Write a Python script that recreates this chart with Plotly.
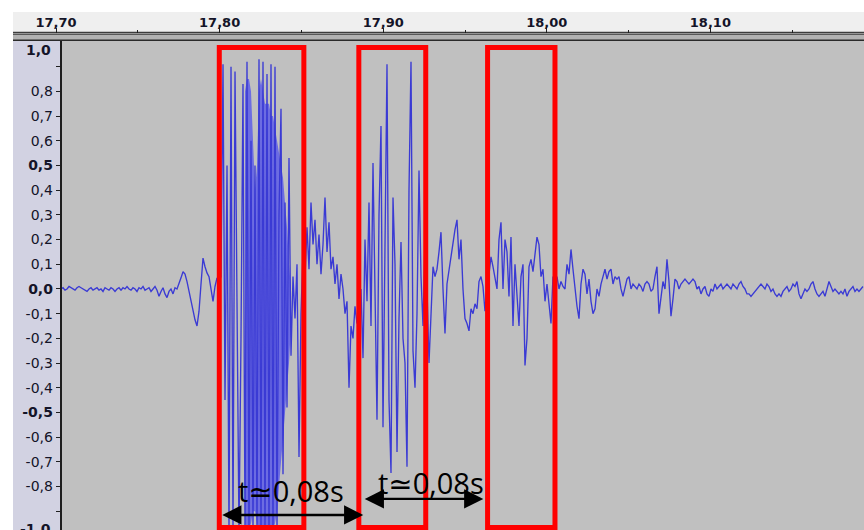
import numpy as np
import plotly.graph_objects as go

# ---- waveform samples (amplitude, one value per sample step) ----
lead_in = [
    0.0, 0.005, -0.005, 0.0, 0.01, 0.005, 0.0, -0.005, 0.005, 0.01,
    0.005, 0.0, -0.005, -0.01, 0.0, 0.005, -0.005, 0.0, 0.005, -0.005,
    0.0, -0.01, 0.005, 0.0, -0.005, 0.005, 0.0, -0.01, 0.0, 0.005,
    -0.005, 0.005, 0.0, 0.01, 0.0, -0.005, 0.005, 0.0, -0.01, 0.005,
    0.0, 0.01, -0.005, 0.0, 0.005, -0.01, 0.0, 0.01, -0.005, -0.03,
    -0.01, 0.005, -0.02, -0.035, -0.01, 0.0, -0.02, 0.005, 0.0, 0.02,
    0.045, 0.07, 0.06, 0.03, -0.01, -0.05, -0.09, -0.125, -0.15, -0.09,
    0.02, 0.125, 0.09, 0.065, 0.05, 0.0, -0.05, 0.01, 0.045, 0.03,
]
burst_one = [
    0.05, 0.91, -0.45, 0.5, -0.99, 0.9, -0.99, 0.88, -0.1, -0.99,
    -0.2, 0.83, -0.99, 0.92, -0.99, 0.6, -0.99, 0.5, -0.99, 0.93,
    -0.99, 0.92, -0.99, 0.87, -0.99, 0.91, -0.99, 0.9, -0.99, 0.3,
    0.73, -0.75, 0.35, -0.48, 0.53, -0.27, 0.05, -0.12, 0.1, -0.68,
    -0.1,
]
gap_one = [
    0.15, 0.05, 0.25, 0.08, 0.35, 0.18, 0.28, 0.1, 0.22, 0.06,
    0.18, 0.37, 0.15, 0.27, 0.08, 0.13, 0.02, 0.1, -0.04, 0.06,
    0.0, -0.1, -0.05, -0.4, -0.15, -0.2, -0.07, -0.14,
]
burst_two = [
    -0.1, 0.0, -0.28, 0.2, -0.05, 0.35, -0.15, 0.51, -0.1, -0.53,
    0.3, 0.66, -0.56, 0.2, 0.91, -0.45, -0.745, 0.37, 0.1, -0.66,
    -0.12, 0.19, -0.2, -0.3, -0.72, 0.4, 0.92, -0.25, -0.4, -0.1,
    0.48, 0.05, -0.15, 0.2, 0.0,
]
gap_two = [
    -0.3, -0.1, 0.09, 0.05, 0.08, 0.15, 0.23, 0.0, -0.18, 0.02,
    0.08, 0.12, 0.19, 0.24, 0.28, 0.12, 0.2, 0.0, -0.12, -0.14,
    -0.17, -0.08, -0.1, -0.06, -0.08, 0.03, 0.05, 0.01, -0.09,
]
burst_three = [
    0.02, 0.06, 0.13, 0.09, 0.04, 0.0, 0.2, 0.27, 0.0, 0.2,
    0.15, -0.03, 0.21, -0.15, 0.1, -0.05, -0.15, 0.05, 0.1, -0.31,
    -0.2, 0.09, 0.12, 0.07, 0.15, 0.21, 0.18, 0.05, 0.08, -0.05,
    0.02, -0.05, -0.14, 0.05, 0.02,
]
tail = [
    0.05, 0.0, 0.03, 0.01, 0.0, 0.1, 0.06, 0.16, 0.08, 0.0,
    -0.07, -0.12, 0.02, 0.08, 0.06, -0.02, 0.04, -0.05, -0.1, -0.08,
    0.0, -0.03, 0.02, 0.05, 0.08, 0.04, 0.07, 0.08, 0.02, 0.05,
    0.04, 0.05, 0.0, -0.03, 0.0, 0.04, 0.05, 0.0, 0.02, 0.01,
    0.0, 0.02, 0.01, -0.01, 0.02, 0.03, 0.02, -0.01, 0.0, 0.05,
    0.09, -0.1, -0.02, 0.03, 0.0, 0.12, 0.03, -0.11, -0.04, 0.04,
    0.03, 0.0, 0.02, 0.03, 0.04, 0.03, 0.02, 0.03, 0.04, 0.03,
    0.0, 0.01, -0.02, 0.0, 0.01, -0.02, -0.03, 0.0, -0.01, 0.02,
    0.0, 0.01, 0.02, 0.0, 0.01, 0.02, 0.01, 0.0, 0.02, 0.01,
    0.0, 0.02, 0.03, 0.01, 0.0, -0.02, -0.02, -0.03, -0.02, -0.01,
    0.0, 0.01, 0.02, 0.01, 0.0, 0.02, 0.01, -0.01, 0.0, -0.02,
    -0.03, -0.02, -0.03, -0.01, 0.0, 0.01, -0.01, 0.0, 0.02, 0.01,
    0.03, -0.02, -0.04, -0.02, 0.0, -0.01, 0.0, 0.02, 0.03, 0.0,
    -0.02, -0.03, -0.02, -0.01, -0.03, 0.0, 0.03, 0.01, -0.01, 0.0,
    -0.01, -0.02, -0.01, -0.02, 0.0, -0.03, -0.01, 0.0, 0.01, -0.01,
    0.0, -0.01, 0.0, 0.01,
]
amplitude = lead_in + burst_one + gap_one + burst_two + gap_two + burst_three + tail

# RMS envelope over the loudest stretch of the first burst
rms_first_index = 92
rms_upper = [0.8, 0.85, 0.85, 0.8, 0.6, 0.4, 0.5, 0.8, 0.85, 0.8, 0.75, 0.75,
             0.75, 0.7, 0.7, 0.65, 0.6, 0.55, 0.5, 0.45, 0.35, 0.25, 0.1, 0.0]
rms_lower = [-0.95, -0.97, -0.97, -0.95, -0.9, -0.9, -0.95, -0.97, -0.97, -0.97, -0.97, -0.97,
             -0.97, -0.97, -0.97, -0.95, -0.9, -0.8, -0.7, -0.6, -0.5, -0.4, -0.3, -0.15]

t_start = 17.70305       # s, first displayed sample
sample_step = 0.0012225  # s between displayed samples
time = t_start + sample_step * np.arange(len(amplitude))
rms_time = time[rms_first_index:rms_first_index + len(rms_upper)]

# ---- axes ----
time_range = [17.6737, 18.1939]
amp_range = [-0.976, 1.004]

ruler_ticks = [17.70, 17.80, 17.90, 18.00, 18.10]
ruler_labels = ["17,70", "17,80", "17,90", "18,00", "18,10"]
ruler_minor = [17.75, 17.85, 17.95, 18.05, 18.15]

amp_ticks = [0.9, 0.8, 0.7, 0.6, 0.5, 0.4, 0.3, 0.2, 0.1, 0.0,
             -0.1, -0.2, -0.3, -0.4, -0.5, -0.6, -0.7, -0.8, -0.9]
amp_labels = ["", "0,8", "0,7", "0,6", "<b>0,5</b>", "0,4", "0,3", "0,2", "0,1", "<b>0,0</b>",
              "-0,1", "-0,2", "-0,3", "-0,4", "<b>-0,5</b>", "-0,6", "-0,7", "-0,8", ""]

# ---- marked syllable windows and intervals between them ----
window_starts = [17.7998, 17.8851, 17.9638]
window_ends = [17.8515, 17.9260, 18.0050]
interval_starts = [17.8007, 17.8878]
interval_ends = [17.8878, 17.9612]
interval_labels = ["t≃0,08s", "t≃0,08s"]

W, H = 864, 530
AX_FONT = "DejaVu Sans, Verdana, sans-serif"
INK = "#141428"


def px_x(p):
    return p / W


def px_y(p):
    return 1 - p / H


fig = go.Figure()
fig.add_trace(go.Scatter(
    x=np.concatenate([rms_time, rms_time[::-1]]),
    y=rms_upper + rms_lower[::-1],
    fill="toself", fillcolor="rgb(108,108,226)", mode="none",
    hoverinfo="skip", showlegend=False,
))
fig.add_trace(go.Scatter(
    x=time, y=amplitude, mode="lines",
    line=dict(color="rgb(58,58,212)", width=1.35),
    hoverinfo="skip", showlegend=False,
))

shapes = []
# ruler strip
shapes.append(dict(type="rect", xref="paper", yref="paper", layer="below",
                   x0=px_x(13), x1=1, y0=px_y(32), y1=px_y(12),
                   fillcolor="#efefef", line=dict(width=0)))
shapes.append(dict(type="rect", xref="paper", yref="paper", layer="below",
                   x0=px_x(13), x1=1, y0=px_y(41), y1=px_y(32),
                   fillcolor="#b2b2b2", line=dict(width=0)))
for yy, col, w in [(32.5, "#3c3c3c", 1.3), (34.5, "#585858", 1.2), (40.2, "#2a2a2a", 1.6)]:
    shapes.append(dict(type="line", xref="paper", yref="paper", layer="below",
                       x0=px_x(13), x1=1, y0=px_y(yy), y1=px_y(yy),
                       line=dict(color=col, width=w)))
# vertical ruler panel
shapes.append(dict(type="rect", xref="paper", yref="paper", layer="below",
                   x0=px_x(13), x1=px_x(60.5), y0=0, y1=px_y(41),
                   fillcolor="#d2d2e2", line=dict(width=0)))
# marked windows
for a, b in zip(window_starts, window_ends):
    shapes.append(dict(type="rect", xref="x", yref="y", layer="above",
                       x0=a, x1=b, y0=-0.966, y1=0.978,
                       line=dict(color="#ff0000", width=5), fillcolor="rgba(0,0,0,0)"))

annotations = [
    dict(xref="paper", yref="paper", x=px_x(53), y=px_y(50), xanchor="right", yanchor="middle",
         text="<b>1,0</b>", showarrow=False, font=dict(family=AX_FONT, size=14, color=INK)),
    dict(xref="paper", yref="paper", x=px_x(53), y=px_y(519), xanchor="right", yanchor="top",
         text="<b>-1,0</b>", showarrow=False, font=dict(family=AX_FONT, size=14, color=INK)),
]
arrow_levels = [-0.915, -0.850]
text_levels = [-0.818, -0.785]
text_centers = [17.8436, 17.9292]
for a, b, lvl, lab, tl, tc in zip(interval_starts, interval_ends, arrow_levels,
                                   interval_labels, text_levels, text_centers):
    annotations.append(dict(
        xref="x", yref="y", axref="x", ayref="y", x=b, y=lvl, ax=a, ay=lvl,
        text="", showarrow=True, arrowhead=2, arrowside="end+start",
        arrowsize=1.6, arrowwidth=2.4, arrowcolor="black", standoff=0, startstandoff=0,
    ))
    annotations.append(dict(
        xref="x", yref="y", x=tc, y=tl, text=lab, showarrow=False,
        xanchor="center", yanchor="middle",
        font=dict(family="Open Sans, DejaVu Sans, sans-serif", size=29, color="black"),
    ))

fig.update_layout(
    width=W, height=H,
    margin=dict(l=0, r=0, t=0, b=0),
    paper_bgcolor="white", plot_bgcolor="#c0c0c0",
    separators=",.",
    showlegend=False,
    shapes=shapes, annotations=annotations,
    xaxis=dict(
        domain=[px_x(13), 1], range=time_range,
        anchor="free", position=px_y(32.5), side="top",
        tickmode="array", tickvals=ruler_ticks,
        ticktext=["<b>%s</b>" % s for s in ruler_labels],
        ticks="outside", ticklen=5, tickwidth=1, tickcolor="#202020",
        ticklabelstandoff=-5,
        tickfont=dict(family=AX_FONT, size=13, color=INK),
        minor=dict(tickvals=ruler_minor, ticks="outside", ticklen=3, tickcolor="#202020"),
        showgrid=False, zeroline=False, showline=False, fixedrange=True,
    ),
    yaxis=dict(
        domain=[0, px_y(41)], range=amp_range,
        anchor="free", position=px_x(60.5), side="left",
        tickmode="array", tickvals=amp_ticks, ticktext=amp_labels,
        ticks="outside", ticklen=4, tickwidth=1, tickcolor="#202020",
        tickfont=dict(family=AX_FONT, size=14, color=INK),
        showgrid=False, zeroline=False,
        showline=True, linecolor="#1e1e1e", linewidth=1.5, fixedrange=True,
    ),
)

fig.write_html("out.html")
